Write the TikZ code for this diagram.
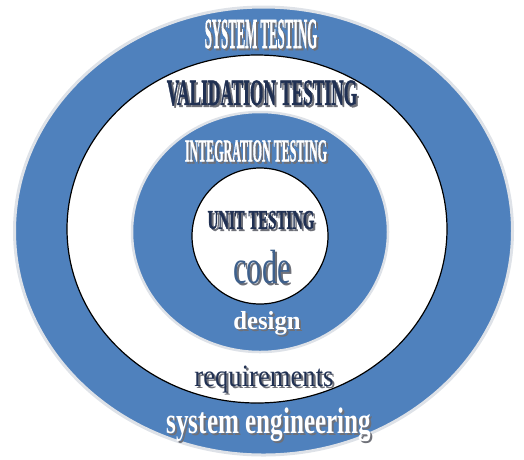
\documentclass[tikz,border=0pt]{standalone}
\usepackage{fontspec}
\setmainfont{Liberation Serif}
\newfontfamily\heavyfont[FakeBold=1.4]{Liberation Serif}

\definecolor{ringblue}{RGB}{79,129,189}
\definecolor{navy}{RGB}{32,48,82}
\definecolor{codeblue}{RGB}{62,96,140}
\definecolor{rim}{RGB}{222,226,232}
\definecolor{shade}{RGB}{110,112,120}

% size, horizontal squeeze, colour, text (with a soft drop shadow)
\newcommand{\ringlabel}[4]{\fontsize{#1}{#1}\selectfont
	\rlap{\kern2pt\raisebox{-2pt}{\scalebox{#2}[1]{\textcolor{shade}{#4}}}}%
	\scalebox{#2}[1]{\textcolor{#3}{#4}}}

\begin{document}
\begin{tikzpicture}[x=1pt, y=-1pt]
	
	\useasboundingbox (0,0) rectangle (524,459);
	
	% Rings (outer to inner)
	\filldraw[fill=ringblue, draw=rim, line width=3pt] (263.5,231) ellipse [x radius=249, y radius=224];
	\filldraw[fill=white, draw=black, line width=1.2pt] (257,229) ellipse [x radius=190, y radius=174];
	\filldraw[fill=ringblue, draw=rim, line width=2.5pt] (260,232) ellipse [x radius=128, y radius=120];
	\filldraw[fill=white, draw=black, line width=1.2pt] (260,236) ellipse [x radius=68, y radius=68];
	
	% Testing levels
	\node[inner sep=0] (systest) at (261,35) {\ringlabel{43}{0.297}{white}{\heavyfont\bfseries SYSTEM TESTING}};
	\node[inner sep=0] (valtest) at (262,94) {\ringlabel{37}{0.468}{navy}{\heavyfont\bfseries VALIDATION TESTING}};
	\node[inner sep=0] (inttest) at (256,152) {\ringlabel{32}{0.375}{white}{\heavyfont\bfseries INTEGRATION TESTING}};
	\node[inner sep=0] (unittest) at (261,221) {\ringlabel{27}{0.55}{navy}{\heavyfont\bfseries UNIT TESTING}};
	
	% Development stages
	\node[inner sep=0] (code) at (262,268) {\ringlabel{48}{0.63}{codeblue}{code}};
	\node[inner sep=0] (design) at (267,324) {\ringlabel{26}{0.95}{white}{\bfseries design}};
	\node[inner sep=0] (req) at (264,381) {\ringlabel{31}{0.86}{navy}{requirements}};
	\node[inner sep=0] (syseng) at (269,426) {\ringlabel{37}{0.68}{white}{\bfseries system engineering}};
	
\end{tikzpicture}
\end{document}
